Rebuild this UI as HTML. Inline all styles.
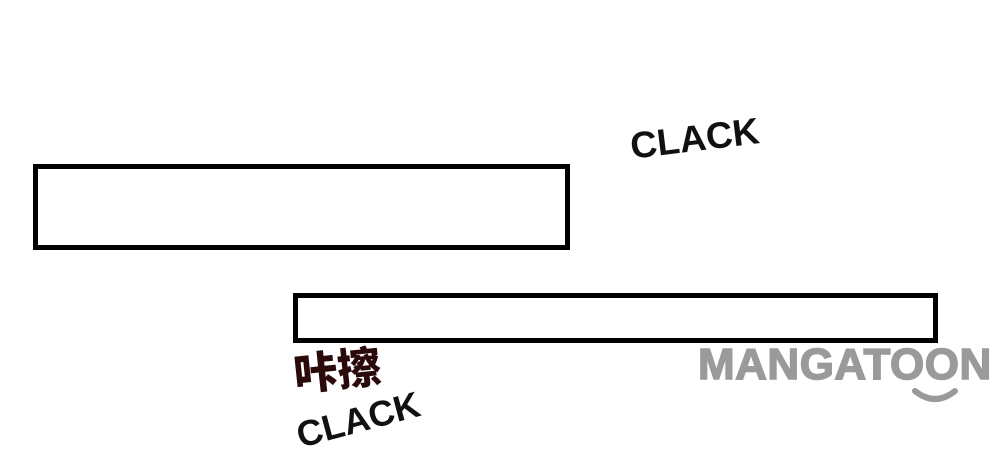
<!DOCTYPE html>
<html><head><meta charset="utf-8"><style>
body{margin:0;width:1000px;height:456px;background:#fff;position:relative;overflow:hidden;font-family:"Liberation Sans",sans-serif}
.r{position:absolute;border:5px solid #000;box-sizing:border-box}
.t{position:absolute;font-weight:bold;white-space:nowrap;color:#111}
</style></head><body>
<div class="r" style="left:33px;top:164px;width:537px;height:86px"></div>
<div class="r" style="left:293px;top:293px;width:645px;height:50px"></div>
<div class="t" style="left:628px;top:126px;font-size:37px;transform:rotate(-7deg);transform-origin:left top">CLACK</div>
<div class="t" style="left:290px;top:340px;font-size:44px;color:#2a0a0a;font-family:'Noto Sans CJK SC',sans-serif;font-weight:900;transform:rotate(-6deg);transform-origin:left top">咔擦</div>
<div class="t" style="left:292px;top:416px;font-size:36px;transform:rotate(-15deg);transform-origin:left top">CLACK</div>
<div class="t" style="left:698px;top:340px;font-size:44px;color:#9a9a9a;font-weight:900;letter-spacing:0.5px;-webkit-text-stroke:1.5px #9a9a9a">MANGATOON</div>
<svg style="position:absolute;left:905px;top:385px" width="60" height="25"><path d="M10 6 Q30 22 50 6" stroke="#9a9a9a" stroke-width="6" fill="none" stroke-linecap="round"/></svg>
</body></html>
